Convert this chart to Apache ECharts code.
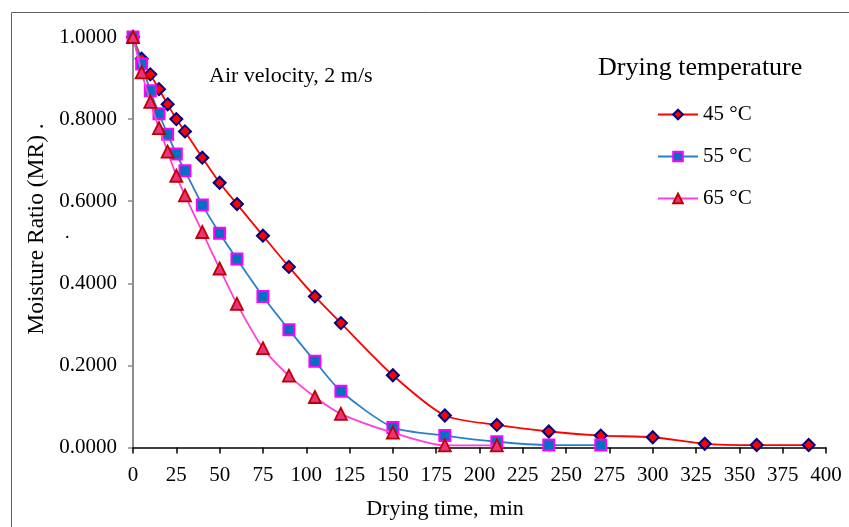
<!DOCTYPE html>
<html>
<head>
<meta charset="utf-8">
<script src="https://cdn.jsdelivr.net/npm/echarts@6/dist/echarts.min.js"></script>
<style>html,body{margin:0;padding:0;background:#fff}#c{width:849px;height:527px}</style>
</head>
<body>
<div id="c"></div>
<script>
const xTicks = [0, 25, 50, 75, 100, 125, 150, 175, 200, 225, 250, 275, 300, 325, 350, 375, 400];
const yTicks = [0, 0.2, 0.4, 0.6, 0.8, 1.0];

const t45 = [0, 5, 10, 15, 20, 25, 30, 40, 50, 60, 75, 90, 105, 120, 150, 180, 210, 240, 270, 300, 330, 360, 390];
const mr45 = [1.0, 0.947, 0.909, 0.873, 0.836, 0.800, 0.770, 0.706, 0.645, 0.593, 0.516, 0.440, 0.368, 0.303, 0.176, 0.078, 0.055, 0.039, 0.029, 0.025, 0.009, 0.006, 0.006];

const t55 = [0, 5, 10, 15, 20, 25, 30, 40, 50, 60, 75, 90, 105, 120, 150, 180, 210, 240, 270];
const mr55 = [1.0, 0.934, 0.869, 0.813, 0.763, 0.715, 0.674, 0.591, 0.522, 0.459, 0.368, 0.287, 0.210, 0.137, 0.049, 0.029, 0.014, 0.006, 0.006];

const t65 = [0, 5, 10, 15, 20, 25, 30, 40, 50, 60, 75, 90, 105, 120, 150, 180, 210];
const mr65 = [1.0, 0.914, 0.842, 0.778, 0.721, 0.662, 0.614, 0.525, 0.436, 0.350, 0.242, 0.175, 0.123, 0.082, 0.036, 0.005, 0.005];

const pair = (t, v) => t.map((x, i) => [x, v[i]]);
const serif = '"Liberation Serif", "DejaVu Serif", serif';

const chart = echarts.init(document.getElementById('c'));
chart.setOption({
  animation: false,
  backgroundColor: '#fff',
  textStyle: { fontFamily: serif },
  grid: { left: 133, right: 23, top: 37, bottom: 79.5, containLabel: false },
  title: [
    { text: 'Air velocity, 2 m/s', left: 204, top: 60, textStyle: { fontFamily: serif, fontSize: 22, fontWeight: 'normal', color: '#000' } },
    { text: 'Drying temperature', left: 593, top: 50, textStyle: { fontFamily: serif, fontSize: 26, fontWeight: 'normal', color: '#000' } }
  ],
  legend: {
    orient: 'vertical',
    left: 652,
    top: 99,
    itemWidth: 40,
    itemHeight: 12,
    itemGap: 21,
    textStyle: { fontFamily: serif, fontSize: 21, color: '#000' },
    data: ['45 °C', '55 °C', '65 °C']
  },
  xAxis: {
    type: 'value', min: 0, max: 400, interval: 25,
    axisLine: { show: true, onZero: false, lineStyle: { color: '#000', width: 1.5 } },
    axisTick: { show: true, length: 6, lineStyle: { color: '#000', width: 1.5 } },
    axisLabel: { fontFamily: serif, fontSize: 21, color: '#000', margin: 17,
      customValues: xTicks },
    splitLine: { show: false }
  },
  yAxis: {
    type: 'value', min: 0, max: 1, interval: 0.2,
    axisLine: { show: true, lineStyle: { color: '#8c8c8c', width: 2 } },
    axisTick: { show: true, length: 5, lineStyle: { color: '#8c8c8c', width: 1.5 } },
    axisLabel: { fontFamily: serif, fontSize: 21, color: '#000', margin: 16,
      formatter: v => v.toFixed(4) },
    splitLine: { show: false }
  },
  graphic: [
    { type: 'rect', silent: true, z: -1, shape: { x: 11.5, y: 12.5, width: 900, height: 600 },
      style: { fill: 'none', stroke: '#606060', lineWidth: 1 } },
    { type: 'text', x: 37, y: 229, rotation: Math.PI / 2,
      style: { text: 'Moisture Ratio (MR) .', fontFamily: serif, fontSize: 23.5, fill: '#000', align: 'center', verticalAlign: 'middle' } },
    { type: 'text', x: 445, y: 509,
      style: { text: 'Drying time,  min', fontFamily: serif, fontSize: 22, fill: '#000', align: 'center', verticalAlign: 'middle' } },
    { type: 'text', left: 65, top: 224, style: { text: '.', fontFamily: serif, fontSize: 18, fill: '#000' } }
  ],
  series: [
    {
      name: '45 °C', type: 'line', data: pair(t45, mr45), smooth: 0.25,
      symbol: 'diamond', symbolSize: 12,
      lineStyle: { color: '#ff0000', width: 1.8 },
      itemStyle: { color: '#ff0000', borderColor: '#000080', borderWidth: 2 },
      z: 2
    },
    {
      name: '55 °C', type: 'line', data: pair(t55, mr55), smooth: 0.25,
      symbol: 'rect', symbolSize: 11,
      lineStyle: { color: '#2a80c8', width: 1.8 },
      itemStyle: { color: '#0070c0', borderColor: '#ff00ff', borderWidth: 2 },
      z: 3
    },
    {
      name: '65 °C', type: 'line', data: pair(t65, mr65), smooth: 0.25,
      symbol: 'triangle', symbolSize: 12,
      lineStyle: { color: '#ff40d8', width: 1.8 },
      itemStyle: { color: '#e8357a', borderColor: '#c00000', borderWidth: 1.8 },
      z: 4
    }
  ]
});
</script>
</body>
</html>
